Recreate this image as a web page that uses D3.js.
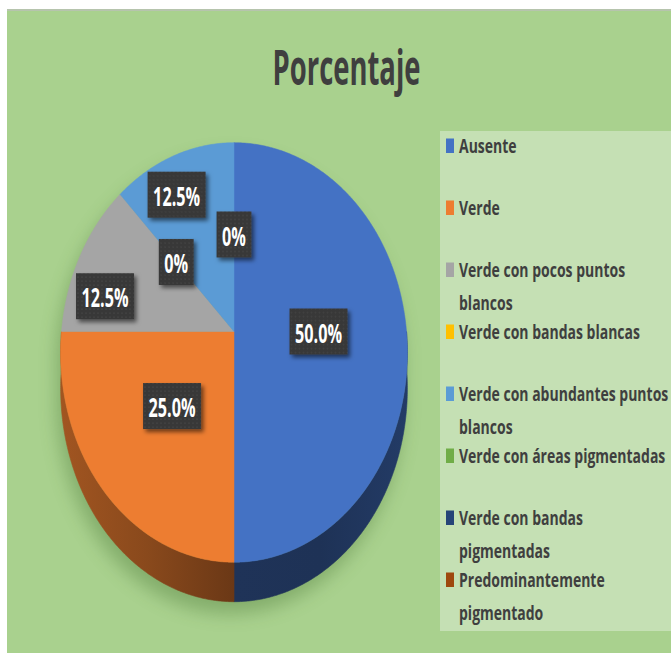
<!DOCTYPE html>
<html><head><meta charset="utf-8">
<script src="https://cdn.jsdelivr.net/npm/d3@7"></script>
<style>html,body{margin:0;padding:0;background:#fff;}svg{display:block}</style>
</head><body>
<svg id="c" width="671" height="653"></svg>
<script>
// ---- data ----
const chartTitle = "Porcentaje";
const categories = ["Ausente","Verde","Verde con pocos puntos blancos","Verde con bandas blancas","Verde con abundantes puntos blancos","Verde con áreas pigmentadas","Verde con bandas pigmentadas","Predominantemente pigmentado"];
const legendLines = [["Ausente"],["Verde"],["Verde con pocos puntos","blancos"],["Verde con bandas blancas"],["Verde con abundantes puntos","blancos"],["Verde con áreas pigmentadas"],["Verde con bandas","pigmentadas"],["Predominantemente","pigmentado"]];
const values = [50.0, 25.0, 12.5, 0, 12.5, 0, null, null];
const colors = ["#4472C4","#ED7D31","#A5A5A5","#FFC000","#5B9BD5","#70AD47","#264478","#9E480E"];
// label placement (layout): radius fraction and angular shift (deg) from slice mid-angle
const labelRadius = [0.49, 0.49, 0.78, 0.49, 0.79, 0.49, 0, 0];
const labelShift = [0, 0, -9.7, 0, -4.3, 0, 0, 0];

// ---- layout ----
const W = 671, H = 653;
const cx = 234, cy = 331.5, S = 172.5, T = 207.7, K = 0.1, D = 35.5;
const FONT = "'Open Sans', 'DejaVu Sans', sans-serif";
const CAP = 0.714;

const svg = d3.select("#c");
const defs = svg.append("defs");
const color = d3.scaleOrdinal().domain(categories).range(colors);
const fmt = v => v === 0 ? "0%" : d3.format(".1f")(v) + "%";

function proj(u, v, z) { const s = 1 / (1 + K * v); return [cx + S * u * s, cy - T * v * s + D * z * s]; }
function arcPts(a0, a1, z, r) {
  r = r == null ? 1 : r;
  const pts = []; const steps = Math.max(2, Math.ceil(Math.abs(a1 - a0) / (Math.PI / 360)));
  for (let i = 0; i <= steps; i++) { const a = a0 + (a1 - a0) * i / steps; pts.push(proj(r * Math.sin(a), r * Math.cos(a), z)); }
  return pts;
}
const line = d3.line().curve(d3.curveLinear);

function measure(str, size, weight) {
  const t = svg.append("text").attr("font-family", FONT).attr("font-weight", weight).attr("font-size", size).text(str);
  const w = t.node().getComputedTextLength(); t.remove(); return w;
}

// background
svg.append("rect").attr("x", 0).attr("y", 0).attr("width", W).attr("height", H).attr("fill", "#ffffff");
svg.append("rect").attr("x", 7).attr("y", 9).attr("width", W - 7).attr("height", H - 9).attr("fill", "#A9D18E");
svg.append("rect").attr("x", 7).attr("y", 9).attr("width", W - 7).attr("height", 2).attr("fill", "#b6c4ad");

// title
{
  const fs = 40, wt = 700;
  const sx = 148 / measure(chartTitle, fs, wt), sy = 34.5 / (CAP * fs);
  svg.append("g").attr("transform", `translate(346.5,85) scale(${sx},${sy})`)
    .append("text").attr("text-anchor", "middle").attr("font-family", FONT).attr("font-weight", wt)
    .attr("font-size", fs).attr("fill", "#3f3f3f").text(chartTitle);
}

// pie
const pie = d3.pie().sort(null).value(d => d ?? 0).startAngle(0).endAngle(2 * Math.PI);
const arcs = pie(values);

// shadow
const blur = defs.append("filter").attr("id", "blur").attr("x", "-30%").attr("y", "-30%").attr("width", "160%").attr("height", "160%");
blur.append("feGaussianBlur").attr("stdDeviation", 9);
const sh = svg.append("g").attr("filter", "url(#blur)").attr("opacity", 0.35).attr("transform", "translate(-4,12)");
sh.append("path").attr("d", line(arcPts(0, 2 * Math.PI, 0)) + "Z").attr("fill", "#3d6b2a");
sh.append("path").attr("d", line(arcPts(0, 2 * Math.PI, 1)) + "Z").attr("fill", "#3d6b2a");

// walls (visible front half)
arcs.forEach((a, i) => {
  const a0 = Math.max(a.startAngle, Math.PI / 2), a1 = Math.min(a.endAngle, 3 * Math.PI / 2);
  if (a1 <= a0) return;
  const base = d3.rgb(color(categories[i]));
  const g = defs.append("linearGradient").attr("id", "wall" + i).attr("gradientUnits", "userSpaceOnUse")
    .attr("x1", cx - S).attr("x2", cx + S).attr("y1", 0).attr("y2", 0);
  [[0, 0.68], [0.25, 0.58], [0.5, 0.45], [0.75, 0.44], [1, 0.52]].forEach(([o, f]) => {
    g.append("stop").attr("offset", o).attr("stop-color", d3.rgb(base.r * f, base.g * f, base.b * f).formatHex());
  });
  const pts = arcPts(a0, a1, 0).concat(arcPts(a1, a0, 1));
  svg.append("path").attr("d", line(pts) + "Z").attr("fill", `url(#wall${i})`).attr("stroke", `url(#wall${i})`).attr("stroke-width", 0.6);
});

// top faces
arcs.forEach((a, i) => {
  if (a.endAngle - a.startAngle <= 0) return;
  const pts = [proj(0, 0, 0)].concat(arcPts(a.startAngle, a.endAngle, 0));
  const c = color(categories[i]);
  svg.append("path").attr("d", line(pts) + "Z").attr("fill", c).attr("stroke", c).attr("stroke-width", 0.5);
});

// data labels
const pat = defs.append("pattern").attr("id", "dots").attr("width", 4).attr("height", 4).attr("patternUnits", "userSpaceOnUse");
pat.append("rect").attr("width", 4).attr("height", 4).attr("fill", "#373737");
pat.append("circle").attr("cx", 1).attr("cy", 1).attr("r", 0.6).attr("fill", "#565656");
const ds = defs.append("filter").attr("id", "ds").attr("x", "-30%").attr("y", "-30%").attr("width", "170%").attr("height", "170%");
ds.append("feDropShadow").attr("dx", 2.5).attr("dy", 3).attr("stdDeviation", 2).attr("flood-color", "#000").attr("flood-opacity", 0.55);
{
  const fs = 20, wt = 700;
  const sx = 47 / measure("12.5%", fs, wt), sy = 19.5 / (CAP * fs);
  arcs.forEach((a, i) => {
    if (values[i] == null) return;
    const mid = (a.startAngle + a.endAngle) / 2 + labelShift[i] * Math.PI / 180;
    const r = labelRadius[i];
    const [x, y] = proj(r * Math.sin(mid), r * Math.cos(mid), 0);
    const txt = fmt(values[i]);
    const tw = measure(txt, fs, wt) * sx;
    const bw = tw + 11, bh = 46;
    const g = svg.append("g").attr("transform", `translate(${x},${y})`);
    g.append("rect").attr("x", -bw / 2).attr("y", -bh / 2).attr("width", bw).attr("height", bh)
      .attr("fill", "url(#dots)").attr("filter", "url(#ds)");
    g.append("g").attr("transform", `translate(0,${19.5 / 2 + 1.5}) scale(${sx},${sy})`)
      .append("text").attr("text-anchor", "middle").attr("font-family", FONT).attr("font-weight", wt)
      .attr("font-size", fs).attr("fill", "#ffffff").text(txt);
  });
}

// legend
svg.append("rect").attr("x", 440).attr("y", 131).attr("width", W - 440).attr("height", 500).attr("fill", "#C5E0B4");
{
  const fs = 18, wt = 700;
  const sx = 181 / measure("Verde con bandas blancas", fs, wt), sy = 14.5 / (CAP * fs);
  const rowY = d3.scaleLinear().domain([0, 1]).range([153, 215]);
  categories.forEach((c, i) => {
    const y0 = rowY(i);
    svg.append("rect").attr("x", 446).attr("y", y0 - 14.5).attr("width", 8).attr("height", 14.5).attr("fill", color(c));
    legendLines[i].forEach((ln, j) => {
      svg.append("g").attr("transform", `translate(459,${y0 + j * 33}) scale(${sx},${sy})`)
        .append("text").attr("font-family", FONT).attr("font-weight", wt).attr("font-size", fs)
        .attr("fill", "#3f3f3f").text(ln);
    });
  });
}
</script>
</body></html>
